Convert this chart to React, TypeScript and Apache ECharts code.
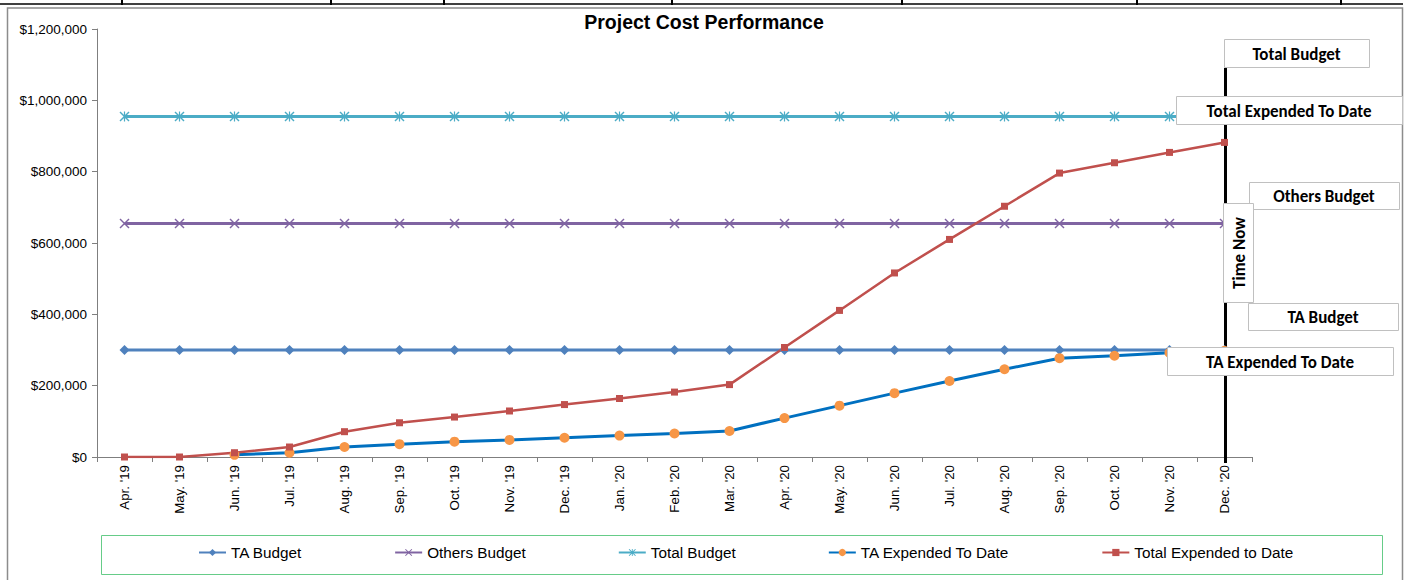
import React, { useEffect, useRef } from 'react';
import * as echarts from 'echarts';

const categories = [
  "Apr. '19", "May. '19", "Jun. '19", "Jul. '19", "Aug. '19", "Sep. '19", "Oct. '19",
  "Nov. '19", "Dec. '19", "Jan. '20", "Feb. '20", "Mar. '20", "Apr. '20", "May. '20",
  "Jun. '20", "Jul. '20", "Aug. '20", "Sep. '20", "Oct. '20", "Nov. '20", "Dec. '20",
];

const taBudget = [
  300000, 300000, 300000, 300000, 300000, 300000, 300000, 300000, 300000, 300000, 300000,
  300000, 300000, 300000, 300000, 300000, 300000, 300000, 300000, 300000, 300000,
];
const othersBudget = [
  655000, 655000, 655000, 655000, 655000, 655000, 655000, 655000, 655000, 655000, 655000,
  655000, 655000, 655000, 655000, 655000, 655000, 655000, 655000, 655000, 655000,
];
const totalBudget = [
  955000, 955000, 955000, 955000, 955000, 955000, 955000, 955000, 955000, 955000, 955000,
  955000, 955000, 955000, 955000, 955000, 955000, 955000, 955000, 955000, 955000,
];
const taExpended = [
  null, null, 6000, 12000, 28000, 36000, 43000, 48000, 54000, 60000, 66000,
  73000, 109000, 144000, 179000, 213000, 246000, 277000, 284000, 292000, 298000,
];
const totalExpended = [
  0, 0, 12000, 28000, 71000, 96000, 112000, 129000, 147000, 164000, 182000,
  203000, 307000, 411000, 516000, 610000, 703000, 796000, 825000, 854000, 882000,
];

const seriesNames = ['TA Budget', 'Others Budget', 'Total Budget', 'TA Expended To Date', 'Total Expended to Date'];
const titleText = 'Project Cost Performance';
const timeNowCategory = "Dec. '20";
const yMin = 0;
const yMax = 1200000;
const yInterval = 200000;

const boxLabels = ['Total Budget', 'Total Expended To Date', 'Others Budget', 'TA Budget', 'TA Expended To Date'];
const timeNowLabel = 'Time Now';

const X_SYMBOL = 'path://M0,1L1,0L5,4L9,0L10,1L6,5L10,9L9,10L5,6L1,10L0,9L4,5Z';
const STAR_SYMBOL =
  'path://M0,1L1,0L5,4L9,0L10,1L6,5L10,9L9,10L5,6L1,10L0,9L4,5Z M4.4,0L5.6,0L5.6,10L4.4,10Z';

const AXIS_FONT = '"Liberation Sans", Arial, sans-serif';
const BOX_FONT = 'Carlito, Calibri, Lato, sans-serif';

export default function App() {
  const ref = useRef<HTMLDivElement>(null);

  useEffect(() => {
    document.body.style.margin = '0';
    const chart = echarts.init(ref.current!, undefined, { renderer: 'svg' });

    const option: any = {
      animation: false,
      backgroundColor: '#ffffff',
      title: {
        text: titleText,
        left: 'center',
        top: 7,
        textStyle: { fontFamily: AXIS_FONT, fontSize: 19.5, fontWeight: 'bold', color: '#000' },
      },
      grid: { left: 97, right: 156, top: 29, bottom: 123, containLabel: false },
      legend: {
        left: 193,
        top: 540,
        itemGap: 92,
        itemWidth: 27,
        itemHeight: 9,
        textStyle: { fontFamily: AXIS_FONT, fontSize: 15.3, color: '#000' },
        data: seriesNames,
      },
      xAxis: {
        type: 'category',
        data: categories,
        boundaryGap: true,
        axisLine: { lineStyle: { color: '#7f7f7f', width: 1 } },
        axisTick: { show: true, length: 5, lineStyle: { color: '#7f7f7f' } },
        axisLabel: {
          rotate: 90,
          margin: 8,
          fontFamily: AXIS_FONT,
          fontSize: 13.3,
          color: '#000',
          interval: 0,
        },
        splitLine: { show: false },
      },
      yAxis: {
        type: 'value',
        min: yMin,
        max: yMax,
        interval: yInterval,
        axisLine: { show: true, lineStyle: { color: '#7f7f7f', width: 1 } },
        axisTick: { show: true, length: 5, lineStyle: { color: '#7f7f7f' } },
        axisLabel: {
          margin: 10,
          fontFamily: AXIS_FONT,
          fontSize: 13.5,
          color: '#000',
          formatter: (v: number) => '$' + v.toLocaleString('en-US'),
        },
        splitLine: { show: false },
      },
      series: [
        {
          name: seriesNames[0],
          type: 'line',
          data: taBudget,
          symbol: 'diamond',
          symbolSize: 10,
          lineStyle: { color: '#4F81BD', width: 3 },
          itemStyle: { color: '#4F81BD' },
        },
        {
          name: seriesNames[1],
          type: 'line',
          data: othersBudget,
          symbol: X_SYMBOL,
          symbolSize: 10,
          lineStyle: { color: '#8064A2', width: 3 },
          itemStyle: { color: '#8064A2' },
        },
        {
          name: seriesNames[2],
          type: 'line',
          data: totalBudget,
          symbol: STAR_SYMBOL,
          symbolSize: 10,
          lineStyle: { color: '#4BACC6', width: 3 },
          itemStyle: { color: '#4BACC6' },
        },
        {
          name: seriesNames[3],
          type: 'line',
          data: taExpended,
          symbol: 'circle',
          symbolSize: 10,
          lineStyle: { color: '#0070C0', width: 3 },
          itemStyle: { color: '#F79646' },
        },
        {
          name: seriesNames[4],
          type: 'line',
          data: totalExpended,
          symbol: 'rect',
          symbolSize: 7,
          lineStyle: { color: '#C0504D', width: 2.5 },
          itemStyle: { color: '#C0504D' },
        },
      ],
    };

    chart.setOption(option);

    const xNow = chart.convertToPixel({ xAxisIndex: 0 }, timeNowCategory) as number;

    const boxGeom = [
      { x: 1224, y: 39, w: 145, h: 28 },
      { x: 1176, y: 96, w: 226, h: 28 },
      { x: 1249, y: 182, w: 150, h: 27 },
      { x: 1248, y: 303, w: 150, h: 27 },
      { x: 1167, y: 347, w: 226, h: 28 },
    ];

    const graphics: any[] = [];
    graphics.push({
      type: 'polyline',
      z: 0,
      shape: { points: [[7.5, 580], [7.5, 8], [1402.5, 8], [1402.5, 580]] },
      style: { stroke: '#8c8c8c', lineWidth: 1.5, fill: null },
    });
    graphics.push({
      type: 'line',
      z: 0,
      shape: { x1: 0, y1: 4, x2: 1403, y2: 4 },
      style: { stroke: '#000', lineWidth: 1.5 },
    });
    [122, 331, 444, 672, 902, 1137, 1341].forEach((tx) => {
      graphics.push({
        type: 'line',
        z: 0,
        shape: { x1: tx, y1: 0, x2: tx, y2: 5 },
        style: { stroke: '#000', lineWidth: 2 },
      });
    });
    graphics.push({
      type: 'rect',
      z: 0,
      shape: { x: 101.5, y: 535.5, width: 1281, height: 39 },
      style: { fill: null, stroke: '#66cc88', lineWidth: 1 },
    });
    graphics.push({
      type: 'line',
      z: 1,
      shape: { x1: xNow + 1, y1: 68, x2: xNow + 1, y2: 463 },
      style: { stroke: '#000', lineWidth: 3 },
    });
    boxGeom.forEach((b, i) => {
      graphics.push({
        type: 'rect',
        z: 100,
        shape: { x: b.x + 0.5, y: b.y + 0.5, width: b.w, height: b.h },
        style: { fill: '#fff', stroke: '#c0c0c0', lineWidth: 1 },
      });
      graphics.push({
        type: 'text',
        z: 101,
        x: b.x + b.w / 2,
        y: b.y + b.h / 2 + 1,
        style: {
          text: boxLabels[i],
          fontFamily: BOX_FONT,
          fontSize: 17,
          fontWeight: 'bold',
          fill: '#000',
          align: 'center',
          verticalAlign: 'middle',
        },
      });
    });
    graphics.push({
      type: 'rect',
      z: 100,
      shape: { x: 1223.5, y: 203.5, width: 30, height: 99 },
      style: { fill: '#fff', stroke: '#c0c0c0', lineWidth: 1 },
    });
    graphics.push({
      type: 'text',
      z: 101,
      x: 1239,
      y: 253,
      rotation: Math.PI / 2,
      style: {
        text: timeNowLabel,
        fontFamily: BOX_FONT,
        fontSize: 17,
        fontWeight: 'bold',
        fill: '#000',
        align: 'center',
        verticalAlign: 'middle',
      },
    });

    chart.setOption({ graphic: graphics });

    return () => chart.dispose();
  }, []);

  return <div ref={ref} style={{ width: 1408, height: 580 }} />;
}
